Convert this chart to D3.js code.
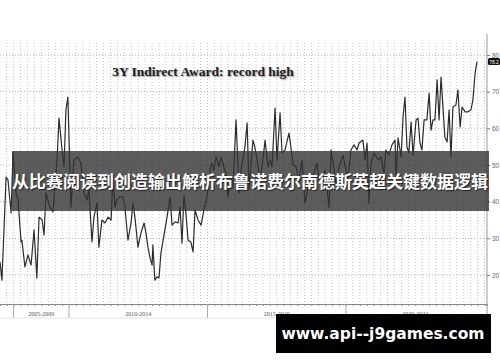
<!DOCTYPE html>
<html>
<head>
<meta charset="utf-8">
<script src="https://cdn.jsdelivr.net/npm/d3@7"></script>
<style>
  body { margin: 0; background: #fff; }
  svg { display: block; }
</style>
</head>
<body>
<div id="chart"></div>
<script>
// decimal year, award value
var years = [
  2007.51, 2007.58, 2007.73, 2007.80, 2007.91, 2007.98, 2008.09, 2008.16, 2008.27, 2008.30,
  2008.41, 2008.52, 2008.63, 2008.74, 2008.84, 2008.92, 2009.03, 2009.10, 2009.17, 2009.31,
  2009.42, 2009.49, 2009.57, 2009.64, 2009.75, 2009.82, 2009.89, 2009.96, 2010.07, 2010.18,
  2010.32, 2010.43, 2010.54, 2010.65, 2010.72, 2010.83, 2010.90, 2011.01, 2011.08, 2011.19,
  2011.30, 2011.41, 2011.52, 2011.59, 2011.66, 2011.73, 2011.84, 2011.95, 2012.02, 2012.13,
  2012.24, 2012.31, 2012.38, 2012.49, 2012.60, 2012.71, 2012.78, 2012.85, 2012.92, 2013.00,
  2013.03, 2013.10, 2013.18, 2013.25, 2013.32, 2013.43, 2013.54, 2013.65, 2013.72, 2013.83,
  2013.94, 2014.01, 2014.08, 2014.15, 2014.22, 2014.30, 2014.40, 2014.48, 2014.55, 2014.66,
  2014.77, 2014.87, 2014.98, 2015.09, 2015.16, 2015.23, 2015.31, 2015.42, 2015.49, 2015.60,
  2015.70, 2015.74, 2015.85, 2015.92, 2016.03, 2016.14, 2016.21, 2016.35, 2016.43, 2016.50,
  2016.57, 2016.64, 2016.71, 2016.79, 2016.90, 2017.00, 2017.08, 2017.18, 2017.26, 2017.33,
  2017.44, 2017.51, 2017.62, 2017.69, 2017.80, 2017.94, 2018.01, 2018.09, 2018.20, 2018.30,
  2018.41, 2018.52, 2018.63, 2018.74, 2018.84, 2018.95, 2019.03, 2019.13, 2019.24, 2019.31,
  2019.39, 2019.46, 2019.57, 2019.64, 2019.75, 2019.89, 2020.00, 2020.07, 2020.18, 2020.29,
  2020.40, 2020.47, 2020.61, 2020.69, 2020.76, 2020.83, 2020.90, 2021.01, 2021.16, 2021.26,
  2021.37, 2021.44, 2021.55, 2021.66, 2021.77, 2021.81, 2021.88, 2021.99, 2022.06, 2022.13,
  2022.20, 2022.27, 2022.35, 2022.42, 2022.53, 2022.60, 2022.67, 2022.74, 2022.82, 2022.92,
  2023.00, 2023.07, 2023.14, 2023.21, 2023.29, 2023.36, 2023.43, 2023.50, 2023.57, 2023.65,
  2023.72, 2023.79, 2023.86, 2023.97, 2024.04, 2024.12, 2024.19, 2024.30, 2024.40, 2024.51,
  2024.58, 2024.66, 2024.73
];
var values = [
  23.6, 18.6, 46.7, 45.9, 36.9, 53.5, 42.4, 40.5, 29.0, 29.5,
  22.2, 25.5, 22.7, 32.3, 19.2, 35.8, 35.0, 30.9, 42.4, 38.5,
  37.2, 44.0, 51.4, 62.8, 54.1, 49.5, 65.0, 68.5, 38.5, 51.4,
  52.2, 50.5, 42.4, 40.5, 43.2, 29.0, 35.8, 39.6, 27.6, 35.0,
  34.2, 35.8, 35.0, 47.3, 38.5, 40.5, 41.3, 41.3, 38.5, 29.5,
  34.2, 39.6, 35.8, 27.6, 31.5, 34.2, 31.5, 27.6, 24.9, 22.7,
  28.2, 18.6, 19.5, 19.2, 26.0, 30.9, 35.8, 41.3, 33.6, 34.5,
  34.2, 38.5, 28.7, 41.8, 36.9, 29.5, 29.0, 26.3, 37.7, 35.0,
  33.6, 37.7, 41.3, 48.6, 50.5, 48.6, 52.2, 49.5, 52.2, 49.2,
  46.7, 41.3, 46.7, 44.0, 62.3, 42.4, 48.6, 54.9, 61.5, 43.2,
  50.0, 56.8, 54.9, 51.4, 45.9, 51.4, 56.8, 49.5, 51.4, 49.5,
  65.5, 51.4, 64.2, 53.3, 54.1, 58.7, 54.9, 50.0, 49.5, 45.4,
  51.4, 39.6, 44.0, 45.9, 47.8, 50.5, 45.1, 44.0, 48.6, 44.0,
  38.3, 54.1, 48.6, 44.5, 49.5, 52.7, 48.6, 45.9, 54.1, 55.5,
  54.1, 56.0, 56.8, 51.4, 56.0, 39.6, 50.5, 53.3, 51.4, 52.2,
  47.8, 54.1, 52.7, 55.5, 56.8, 46.7, 57.4, 52.2, 63.1, 68.5,
  54.9, 53.3, 61.7, 52.7, 62.3, 62.8, 56.0, 54.1, 62.3, 62.3,
  69.6, 59.5, 62.3, 62.3, 73.2, 62.3, 74.0, 65.8, 57.6, 56.3,
  65.0, 52.2, 65.8, 66.4, 70.5, 60.4, 65.8, 64.5, 64.5, 65.0,
  67.7, 75.1, 78.2
];
var yTicks = [20, 30, 40, 50, 60, 70, 80];
var periodLabels = ["2005-2009", "2010-2014", "2015-2019", "2020-2024"];
var periodStarts = [2008, 2010, 2015, 2020];
var periodEnds = [2010, 2015, 2020, 2025];
var lastLabel = "78.2";
var titleText = "3Y Indirect Award: record high";
var bannerText = "从比赛阅读到创造输出解析布鲁诺费尔南德斯英超关键数据逻辑";
var siteText = "www.api--j9games.com";

var W = 500, H = 362;
var plot = { left: 0, right: 487, top: 43, bottom: 304 };

var svg = d3.select("#chart").append("svg")
    .attr("width", W)
    .attr("height", H);

var x = d3.scaleLinear().domain([2007.51, 2025.09]).range([plot.left, plot.right]);
var y = d3.scaleLinear().domain([12.1, 83.27]).range([plot.bottom, plot.top]);

// quarterly vertical grid
var quarters = d3.range(2007.5, 2025.01, 0.25);
svg.append("g")
    .selectAll("line")
    .data(quarters)
    .enter().append("line")
    .attr("x1", function (d) { return x(d); })
    .attr("x2", function (d) { return x(d); })
    .attr("y1", plot.top)
    .attr("y2", plot.bottom)
    .style("stroke", "#c4c4c4")
    .style("stroke-dasharray", "1,2");

// horizontal grid
svg.append("g")
    .selectAll("line")
    .data(yTicks)
    .enter().append("line")
    .attr("x1", plot.left)
    .attr("x2", plot.right)
    .attr("y1", function (d) { return y(d); })
    .attr("y2", function (d) { return y(d); })
    .style("stroke", "#b4b4b4")
    .style("stroke-dasharray", "1,2");

// right axis
var yAxis = d3.axisRight(y)
    .tickValues(yTicks)
    .tickSize(3)
    .tickPadding(2)
    .tickFormat(d3.format("d"));
var ya = svg.append("g")
    .attr("transform", "translate(" + plot.right + ",0)")
    .call(yAxis);
ya.select(".domain").remove();
ya.selectAll("line").style("stroke", "#777");
ya.selectAll("text").style("font", "6.5px 'Liberation Sans', sans-serif").style("fill", "#666");
svg.append("line")
    .attr("x1", plot.right).attr("x2", plot.right)
    .attr("y1", 34).attr("y2", 316)
    .style("stroke", "#999");

// bottom axis with quarterly ticks
var xAxis = d3.axisBottom(x)
    .tickValues(quarters)
    .tickSize(2)
    .tickFormat("");
var xa = svg.append("g")
    .attr("transform", "translate(0," + plot.bottom + ")")
    .call(xAxis);
xa.select(".domain").style("stroke", "#888");
xa.selectAll("line").style("stroke", "#888");

// period separators and labels
svg.append("g")
    .selectAll("line")
    .data(periodStarts)
    .enter().append("line")
    .attr("x1", function (d) { return x(d); })
    .attr("x2", function (d) { return x(d); })
    .attr("y1", plot.bottom)
    .attr("y2", 318)
    .style("stroke", "#aaa");
svg.append("line")
    .attr("x1", plot.left).attr("x2", plot.right)
    .attr("y1", 318).attr("y2", 318)
    .style("stroke", "#e4e4e4");
svg.append("g")
    .selectAll("text")
    .data(periodLabels)
    .enter().append("text")
    .attr("x", function (d, i) { return (x(periodStarts[i]) + x(periodEnds[i])) / 2; })
    .attr("y", 316)
    .attr("text-anchor", "middle")
    .style("font", "6px 'Liberation Serif', serif")
    .style("fill", "#555")
    .text(function (d) { return d; });

// the series
var line = d3.line()
    .x(function (d, i) { return x(years[i]); })
    .y(function (d) { return y(d); });
svg.append("path")
    .datum(values)
    .attr("d", line)
    .style("fill", "none")
    .style("stroke", "#2b2b2b")
    .style("stroke-width", 1.2)
    .style("stroke-linejoin", "round");

// last value tag
var lastY = y(values[values.length - 1]);
svg.append("rect")
    .attr("x", plot.right + 1).attr("y", lastY - 3.5)
    .attr("width", 12).attr("height", 7)
    .attr("rx", 1.5)
    .style("fill", "#111");
svg.append("text")
    .attr("x", plot.right + 7).attr("y", lastY + 2)
    .attr("text-anchor", "middle")
    .style("font", "5px 'Liberation Sans', sans-serif")
    .style("fill", "#fff")
    .text(lastLabel);

// title
svg.append("text")
    .attr("x", 203)
    .attr("y", 76)
    .attr("text-anchor", "middle")
    .style("font", "bold 13.5px 'Liberation Serif', 'Times New Roman', serif")
    .style("fill", "#222")
    .style("text-shadow", "1px 1px 1.5px #999")
    .text(titleText);

// overlay banner
svg.append("rect")
    .attr("x", 12).attr("y", 151)
    .attr("width", 477).attr("height", 60)
    .style("fill", "#333")
    .style("opacity", 0.8);
svg.append("text")
    .attr("x", 250)
    .attr("y", 183)
    .attr("text-anchor", "middle")
    .attr("dominant-baseline", "middle")
    .style("font", "bold 17px 'Noto Sans CJK SC', sans-serif")
    .style("fill", "#fff")
    .style("text-shadow", "1px 1px 1px #222")
    .text(bannerText);

// site tag
svg.append("rect")
    .attr("x", 276).attr("y", 314)
    .attr("width", 215).attr("height", 39)
    .style("fill", "#000");
svg.append("text")
    .attr("x", 383)
    .attr("y", 334)
    .attr("text-anchor", "middle")
    .attr("dominant-baseline", "middle")
    .style("font", "bold 15.5px 'DejaVu Sans', sans-serif")
    .style("fill", "#fff")
    .text(siteText);
</script>
</body>
</html>
